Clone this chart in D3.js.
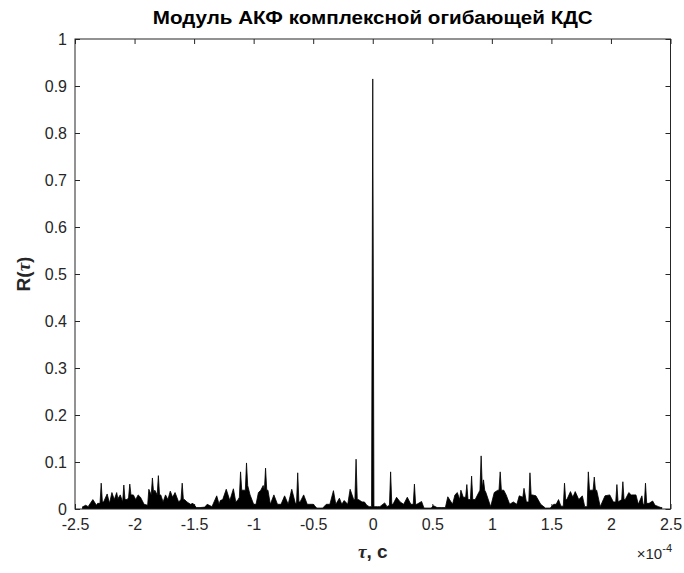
<!DOCTYPE html>
<html>
<head>
<meta charset="utf-8">
<script src="https://cdn.jsdelivr.net/npm/d3@7"></script>
<style>
  body { margin: 0; background: #fff; }
  svg { display: block; font-family: "Liberation Sans", Arial, sans-serif; }
  .axis text { fill: #262626; font-size: 16px; }
  .axis line, .axis path { stroke: #262626; }
</style>
</head>
<body>
<div id="chart"></div>
<script>
// tau in units of 1e-4 s, readings of |R(tau)| taken off the reference plot
const tau = [
  -2.44, -2.41, -2.39, -2.35, -2.32, -2.31, -2.28, -2.26, -2.23, -2.21,
  -2.19, -2.17, -2.15, -2.14, -2.12, -2.10, -2.09, -2.06, -2.04, -2.01,
  -1.99, -1.97, -1.95, -1.92, -1.89, -1.88, -1.85, -1.83, -1.80, -1.78,
  -1.76, -1.74, -1.72, -1.70, -1.68, -1.66, -1.63, -1.60, -1.58, -1.56,
  -1.53, -1.51, -1.48, -1.45, -1.41, -1.39, -1.35, -1.31, -1.29, -1.28,
  -1.26, -1.23, -1.20, -1.17, -1.15, -1.13, -1.11, -1.10, -1.08, -1.06,
  -1.05, -1.03, -1.00, -0.98, -0.96, -0.94, -0.92, -0.90, -0.88, -0.86,
  -0.83, -0.80, -0.77, -0.74, -0.71, -0.68, -0.65, -0.63, -0.61, -0.58,
  -0.55, -0.53, -0.50, -0.47, -0.44, -0.42, -0.39, -0.36, -0.33, -0.31,
  -0.28, -0.26, -0.24, -0.21, -0.19, -0.16, -0.14, -0.12, -0.09, -0.07,
  -0.05, -0.03, -0.01, 0.00, 0.01, 0.04, 0.06, 0.10, 0.12, 0.15,
  0.17, 0.20, 0.23, 0.26, 0.29, 0.32, 0.35, 0.37, 0.41, 0.43,
  0.47, 0.49, 0.51, 0.54, 0.58, 0.61, 0.63, 0.67, 0.69, 0.71,
  0.73, 0.74, 0.76, 0.79, 0.80, 0.83, 0.86, 0.89, 0.91, 0.93,
  0.95, 0.99, 1.02, 1.05, 1.07, 1.10, 1.12, 1.15, 1.18, 1.21,
  1.23, 1.26, 1.27, 1.29, 1.32, 1.34, 1.37, 1.41, 1.45, 1.49,
  1.52, 1.54, 1.56, 1.58, 1.61, 1.63, 1.66, 1.68, 1.70, 1.73,
  1.76, 1.78, 1.81, 1.83, 1.86, 1.88, 1.91, 1.95, 1.99, 2.02,
  2.05, 2.06, 2.10, 2.12, 2.15, 2.17, 2.21, 2.23, 2.26, 2.27,
  2.29, 2.32, 2.35, 2.37, 2.40, 2.42, 2.43
];
const acf = [
  0.004, 0.008, 0.005, 0.020, 0.008, 0.012, 0.055, 0.015, 0.032, 0.012,
  0.035, 0.020, 0.035, 0.022, 0.030, 0.015, 0.051, 0.020, 0.053, 0.030,
  0.020, 0.030, 0.025, 0.010, 0.008, 0.042, 0.066, 0.040, 0.071, 0.030,
  0.015, 0.030, 0.020, 0.038, 0.025, 0.035, 0.015, 0.055, 0.020, 0.015,
  0.010, 0.012, 0.003, 0.003, 0.004, 0.010, 0.005, 0.028, 0.010, 0.018,
  0.020, 0.042, 0.018, 0.043, 0.015, 0.020, 0.079, 0.040, 0.040, 0.098,
  0.050, 0.030, 0.010, 0.010, 0.035, 0.040, 0.050, 0.087, 0.040, 0.010,
  0.030, 0.010, 0.010, 0.028, 0.010, 0.042, 0.012, 0.077, 0.015, 0.030,
  0.010, 0.010, 0.010, 0.002, 0.002, 0.002, 0.010, 0.010, 0.039, 0.010,
  0.023, 0.010, 0.018, 0.010, 0.042, 0.020, 0.106, 0.020, 0.015, 0.015,
  0.008, 0.005, 0.005, 0.915, 0.005, 0.005, 0.005, 0.013, 0.005, 0.079,
  0.010, 0.025, 0.015, 0.010, 0.025, 0.010, 0.053, 0.010, 0.016, 0.002,
  0.002, 0.002, 0.007, 0.003, 0.003, 0.003, 0.026, 0.010, 0.030, 0.035,
  0.020, 0.040, 0.025, 0.052, 0.020, 0.070, 0.020, 0.035, 0.113, 0.062,
  0.035, 0.005, 0.035, 0.040, 0.079, 0.040, 0.030, 0.010, 0.015, 0.010,
  0.028, 0.025, 0.044, 0.015, 0.077, 0.030, 0.028, 0.010, 0.002, 0.002,
  0.010, 0.010, 0.020, 0.006, 0.055, 0.020, 0.037, 0.025, 0.037, 0.020,
  0.028, 0.005, 0.079, 0.040, 0.068, 0.040, 0.005, 0.028, 0.030, 0.015,
  0.052, 0.015, 0.058, 0.020, 0.035, 0.030, 0.030, 0.010, 0.028, 0.010,
  0.055, 0.012, 0.017, 0.008, 0.005, 0.003, 0.003
];

// the spikes are only about a pixel wide: readings right beside each one
const edgeTau = [
  -2.29, -2.27, -2.08, -2.05, -2.03, -1.86, -1.84, -1.81, -1.79, -1.61,
  -1.59, -1.12, -1.07, -0.91, -0.89, -0.64, -0.62, -0.15, -0.13, 0.14,
  0.16, 0.34, 0.36, 0.78, 0.82, 0.84, 0.90, 0.92, 0.94, 1.06,
  1.08, 1.31, 1.33, 1.60, 1.62, 1.80, 1.82, 1.85, 1.87, 2.04,
  2.09, 2.11, 2.28, 2.30
];
const edgeAcf = [
  0.012, 0.015, 0.020, 0.025, 0.030, 0.030, 0.035, 0.030, 0.030, 0.020,
  0.020, 0.025, 0.040, 0.040, 0.040, 0.012, 0.015, 0.020, 0.020, 0.008,
  0.010, 0.010, 0.010, 0.025, 0.020, 0.020, 0.040, 0.045, 0.040, 0.040,
  0.040, 0.015, 0.030, 0.006, 0.020, 0.005, 0.040, 0.040, 0.040, 0.015,
  0.020, 0.020, 0.010, 0.012
];

const xTicks = [-2.5, -2, -1.5, -1, -0.5, 0, 0.5, 1, 1.5, 2, 2.5];
const yTicks = [0, 0.1, 0.2, 0.3, 0.4, 0.5, 0.6, 0.7, 0.8, 0.9, 1];

const width = 684;
const height = 573;
const margin = { top: 39, right: 13.5, bottom: 64, left: 75 };

const points = tau.map((t, i) => ({ t, v: acf[i] }))
  .concat(edgeTau.map((t, i) => ({ t, v: edgeAcf[i] })))
  .sort((a, b) => a.t - b.t);

const xScale = d3.scaleLinear()
  .domain([-2.5, 2.5])
  .range([margin.left, width - margin.right]);
const yScale = d3.scaleLinear()
  .domain([0, 1])
  .range([height - margin.bottom, margin.top]);

const svg = d3.select("#chart").append("svg")
  .attr("width", width)
  .attr("height", height);

const fmt = (d) => String(d);

// Axes with inward ticks, MATLAB style box
svg.append("g")
  .attr("class", "axis")
  .attr("transform", `translate(0, ${yScale(0)})`)
  .call(d3.axisBottom(xScale).tickValues(xTicks).tickFormat(fmt)
    .tickSizeInner(-5).tickSizeOuter(0).tickPadding(10));
svg.append("g")
  .attr("class", "axis")
  .attr("transform", `translate(0, ${yScale(1)})`)
  .call(d3.axisTop(xScale).tickValues(xTicks).tickFormat("")
    .tickSizeInner(-5).tickSizeOuter(0));
svg.append("g")
  .attr("class", "axis")
  .attr("transform", `translate(${xScale(-2.5)}, 0)`)
  .call(d3.axisLeft(yScale).tickValues(yTicks).tickFormat(fmt)
    .tickSizeInner(-5).tickSizeOuter(0).tickPadding(8));
svg.append("g")
  .attr("class", "axis")
  .attr("transform", `translate(${xScale(2.5)}, 0)`)
  .call(d3.axisRight(yScale).tickValues(yTicks).tickFormat("")
    .tickSizeInner(-5).tickSizeOuter(0));

svg.selectAll(".axis .domain").remove();

// The data: filled under the curve, then the curve itself
const area = d3.area()
  .x((d) => xScale(d.t))
  .y0(yScale(0))
  .y1((d) => yScale(d.v));
const line = d3.line()
  .x((d) => xScale(d.t))
  .y((d) => yScale(d.v));

svg.append("path")
  .datum(points)
  .attr("fill", "#000")
  .attr("d", area);
svg.append("path")
  .datum(points)
  .attr("fill", "none")
  .attr("stroke", "#000")
  .attr("stroke-width", 0.8)
  .attr("d", line);

// Box
svg.append("rect")
  .attr("x", xScale(-2.5))
  .attr("y", yScale(1))
  .attr("width", xScale(2.5) - xScale(-2.5))
  .attr("height", yScale(0) - yScale(1))
  .attr("fill", "none")
  .attr("stroke", "#262626");

// Title
svg.append("text")
  .attr("x", (xScale(-2.5) + xScale(2.5)) / 2)
  .attr("y", 24)
  .attr("text-anchor", "middle")
  .attr("font-weight", "bold")
  .attr("font-size", 18)
  .attr("textLength", 440)
  .attr("lengthAdjust", "spacingAndGlyphs")
  .attr("fill", "#000")
  .text("Модуль АКФ комплексной огибающей КДС");

// X label
const xLabel = svg.append("text")
  .attr("x", (xScale(-2.5) + xScale(2.5)) / 2)
  .attr("y", 558)
  .attr("text-anchor", "middle")
  .attr("font-weight", "bold")
  .attr("font-size", 19)
  .attr("fill", "#262626");
xLabel.append("tspan").attr("font-style", "italic").attr("font-family", "'Liberation Serif', serif").text("τ");
xLabel.append("tspan").text(", с");

// Y label
const yLabel = svg.append("text")
  .attr("transform", `translate(30, ${(yScale(0) + yScale(1)) / 2}) rotate(-90)`)
  .attr("text-anchor", "middle")
  .attr("font-weight", "bold")
  .attr("font-size", 19)
  .attr("fill", "#262626");
yLabel.append("tspan").text("R(");
yLabel.append("tspan").attr("font-style", "italic").attr("font-family", "'Liberation Serif', serif").text("τ");
yLabel.append("tspan").text(")");

// Exponent
const expo = svg.append("text")
  .attr("x", 672)
  .attr("y", 559)
  .attr("text-anchor", "end")
  .attr("font-size", 15)
  .attr("fill", "#262626");
expo.append("tspan").text("×10");
expo.append("tspan").attr("dy", -7).attr("font-size", 11).text("-4");
</script>
</body>
</html>
